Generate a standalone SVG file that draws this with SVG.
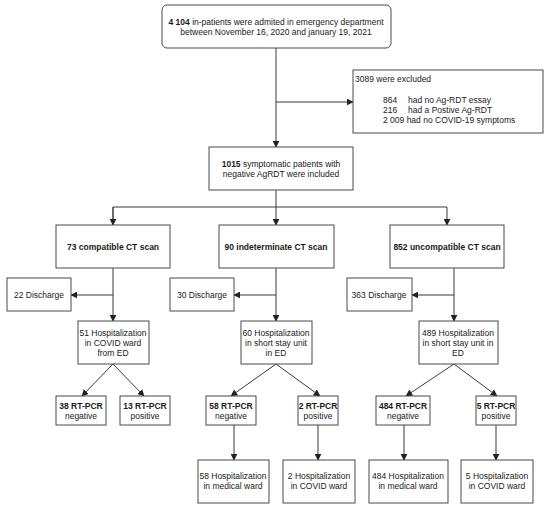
<svg xmlns="http://www.w3.org/2000/svg" width="550" height="507" viewBox="0 0 550 507">
<style>
rect{fill:#fff;stroke:#4a4a4a;stroke-width:1}
text{font-family:"Liberation Sans",Arial,sans-serif;font-size:8.5px;fill:#1a1a1a;text-anchor:middle}
.b{font-weight:bold}
.l{text-anchor:start}
#conn line,#conn path{stroke:#3a3a3a;stroke-width:1;fill:none}
</style>
<defs>
<marker id="ah" viewBox="0 0 10 10" refX="9" refY="5" markerWidth="7" markerHeight="7" markerUnits="userSpaceOnUse" orient="auto"><path d="M0,0L10,5L0,10z" fill="#222"/></marker>
</defs>
<rect width="550" height="507" style="fill:#fff;stroke:none"/>
<g id="conn">
<line x1="276" y1="48" x2="276" y2="147" marker-end="url(#ah)"/>
<line x1="276" y1="102" x2="353" y2="102" marker-end="url(#ah)"/>
<line x1="276" y1="190" x2="276" y2="207"/>
<path d="M113,225V207H447V225" marker-end="url(#ah)"/>
<line x1="113" y1="207" x2="113" y2="225" marker-end="url(#ah)"/>
<line x1="276" y1="207" x2="276" y2="225" marker-end="url(#ah)"/>
<line x1="113" y1="268" x2="113" y2="321" marker-end="url(#ah)"/>
<line x1="113" y1="295" x2="71" y2="295" marker-end="url(#ah)"/>
<line x1="276" y1="268" x2="276" y2="321" marker-end="url(#ah)"/>
<line x1="276" y1="295" x2="234" y2="295" marker-end="url(#ah)"/>
<line x1="454" y1="268" x2="454" y2="321" marker-end="url(#ah)"/>
<line x1="454" y1="295" x2="412" y2="295" marker-end="url(#ah)"/>
<line x1="113" y1="364" x2="82" y2="396" marker-end="url(#ah)"/>
<line x1="113" y1="364" x2="144" y2="396" marker-end="url(#ah)"/>
<line x1="276" y1="364" x2="231" y2="396" marker-end="url(#ah)"/>
<line x1="276" y1="364" x2="320" y2="396" marker-end="url(#ah)"/>
<line x1="454" y1="364" x2="406" y2="396" marker-end="url(#ah)"/>
<line x1="454" y1="364" x2="497" y2="396" marker-end="url(#ah)"/>
<line x1="234" y1="425" x2="234" y2="460" marker-end="url(#ah)"/>
<line x1="318" y1="425" x2="318" y2="460" marker-end="url(#ah)"/>
<line x1="404" y1="425" x2="404" y2="460" marker-end="url(#ah)"/>
<line x1="496" y1="425" x2="496" y2="460" marker-end="url(#ah)"/>
</g>
<g id="n-top">
<rect x="162" y="5" width="229" height="43" rx="5"/>
<text x="276" y="25"><tspan class="b">4 104</tspan> in-patients were admited in emergency department</text>
<text x="276" y="35">between November 16, 2020 and january 19, 2021</text>
</g>
<g id="n-excluded">
<rect x="353" y="70" width="190" height="63"/>
<text class="l" x="355" y="82">3089 were excluded</text>
<text class="l" x="383" y="103">864</text><text class="l" x="408" y="103">had no Ag-RDT essay</text>
<text class="l" x="383" y="113">216</text><text class="l" x="408" y="113">had a Postive Ag-RDT</text>
<text class="l" x="383" y="123">2 009 had no COVID-19 symptoms</text>
</g>
<g id="n-included">
<rect x="209" y="147" width="144" height="43"/>
<text x="281" y="167"><tspan class="b">1015</tspan> symptomatic patients with</text>
<text x="281" y="177">negative AgRDT were included</text>
</g>
<g id="n-ct1"><rect x="56" y="225" width="114" height="43"/><text class="b" x="113" y="250">73 compatible CT scan</text></g>
<g id="n-ct2"><rect x="219" y="225" width="115" height="43"/><text class="b" x="276" y="250">90 indeterminate CT scan</text></g>
<g id="n-ct3"><rect x="390" y="225" width="114" height="43"/><text class="b" x="447" y="250">852 uncompatible CT scan</text></g>
<g id="n-dis1"><rect x="7" y="278" width="64" height="33"/><text x="39" y="298">22 Discharge</text></g>
<g id="n-dis2"><rect x="170" y="278" width="64" height="33"/><text x="202" y="298">30 Discharge</text></g>
<g id="n-dis3"><rect x="347" y="278" width="65" height="33"/><text x="379" y="298">363 Discharge</text></g>
<g id="n-hosp1"><rect x="78" y="321" width="71" height="43"/><text x="113" y="336">51 Hospitalization</text><text x="113" y="346">in COVID ward</text><text x="113" y="356">from ED</text></g>
<g id="n-hosp2"><rect x="241" y="321" width="71" height="43"/><text x="276" y="336">60 Hospitalization</text><text x="276" y="346">in short stay unit</text><text x="276" y="356">in ED</text></g>
<g id="n-hosp3"><rect x="419" y="321" width="79" height="43"/><text x="458" y="336">489 Hospitalization</text><text x="458" y="346">in short stay unit in</text><text x="458" y="356">ED</text></g>
<g id="n-pcr1"><rect x="56" y="396" width="50" height="29"/><text class="b" x="81" y="409">38 RT-PCR</text><text x="81" y="419">negative</text></g>
<g id="n-pcr2"><rect x="120" y="396" width="50" height="29"/><text class="b" x="145" y="409">13 RT-PCR</text><text x="145" y="419">positive</text></g>
<g id="n-pcr3"><rect x="206" y="396" width="50" height="29"/><text class="b" x="231" y="409">58 RT-PCR</text><text x="231" y="419">negative</text></g>
<g id="n-pcr4"><rect x="298" y="396" width="40" height="29"/><text class="b" x="318" y="409">2 RT-PCR</text><text x="318" y="419">positive</text></g>
<g id="n-pcr5"><rect x="376" y="396" width="54" height="29"/><text class="b" x="403" y="409">484 RT-PCR</text><text x="403" y="419">negative</text></g>
<g id="n-pcr6"><rect x="476" y="396" width="40" height="29"/><text class="b" x="496" y="409">5 RT-PCR</text><text x="496" y="419">positive</text></g>
<g id="n-w1"><rect x="198" y="460" width="71" height="43"/><text x="233" y="479">58 Hospitalization</text><text x="233" y="489">in medical ward</text></g>
<g id="n-w2"><rect x="283" y="460" width="72" height="43"/><text x="319" y="479">2 Hospitalization</text><text x="319" y="489">in COVID ward</text></g>
<g id="n-w3"><rect x="369" y="460" width="79" height="43"/><text x="408" y="479">484 Hospitalization</text><text x="408" y="489">in medical ward</text></g>
<g id="n-w4"><rect x="461" y="460" width="72" height="43"/><text x="497" y="479">5 Hospitalization</text><text x="497" y="489">in COVID ward</text></g>
</svg>
